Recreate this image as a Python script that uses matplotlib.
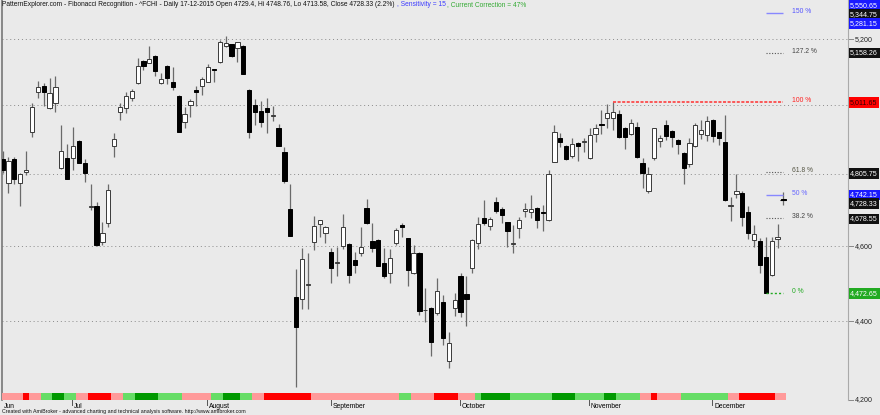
import matplotlib
matplotlib.use("Agg")
import matplotlib.pyplot as plt
import matplotlib.transforms as mtransforms
from matplotlib.patches import Rectangle
import pandas as pd

# ---------------------------------------------------------------------------
# Data (^FCHI daily, 15-06-2015 .. 17-12-2015)
# ---------------------------------------------------------------------------
dates = pd.bdate_range("2015-06-15", "2015-12-17")

opens = [
    4843, 4775, 4843, 4775, 4806, 4923, 5041, 5057, 4992, 5006,
    4817, 4846, 4846, 4896, 4833, 4708, 4711, 4610, 4664, 4881,
    4982, 4992, 5023, 5066, 5134, 5128, 5150, 5066, 5118, 5070,
    5028, 4952, 5002, 5046, 5059, 5071, 5109, 5130, 5180, 5185,
    5174, 5180, 5046, 5002, 4984, 4992, 4969, 4935, 4863, 4702,
    4463, 4457, 4495, 4610, 4661, 4635, 4585, 4554, 4600, 4606,
    4562, 4581, 4706, 4614, 4617, 4554, 4528, 4608, 4657, 4621,
    4527, 4581, 4428, 4434, 4422, 4451, 4296, 4434, 4518, 4471,
    4542, 4608, 4678, 4655, 4721, 4703, 4665, 4607, 4649, 4697,
    4693, 4706, 4693, 4672, 4836, 4905, 4882, 4853, 4889, 4893,
    4846, 4915, 4946, 4962, 4962, 4975, 4935, 4915, 4938, 4833,
    4754, 4848, 4897, 4941, 4925, 4899, 4862, 4829, 4881, 4915,
    4913, 4957, 4921, 4892, 4712, 4744, 4748, 4693, 4617, 4615,
    4571, 4521, 4619, 4729.4,
]
highs = [
    4868, 4850, 4850, 4803, 4867, 5007, 5073, 5066, 5081, 5089,
    4943, 4887, 4938, 4899, 4844, 4772, 4723, 4667, 4773, 4919,
    5007, 5041, 5048, 5142, 5136, 5180, 5152, 5096, 5120, 5115,
    5030, 4995, 5018, 5058, 5086, 5124, 5110, 5198, 5211, 5187,
    5192, 5182, 5048, 5018, 5013, 5021, 4997, 4945, 4877, 4773,
    4537, 4594, 4581, 4683, 4673, 4654, 4594, 4599, 4688, 4608,
    4585, 4652, 4730, 4663, 4619, 4594, 4592, 4649, 4664, 4623,
    4603, 4583, 4486, 4436, 4513, 4469, 4373, 4473, 4527, 4518,
    4619, 4681, 4728, 4681, 4735, 4709, 4667, 4658, 4681, 4718,
    4742, 4708, 4714, 4812, 4943, 4919, 4884, 4904, 4894, 4905,
    4933, 4945, 4988, 5004, 5011.65, 4988, 4937, 4959, 4950, 4846,
    4822, 4935, 4913, 4957, 4928, 4901, 4864, 4905, 4949, 4957,
    4970, 4960, 4923, 4972, 4737, 4800, 4754, 4711, 4658, 4622,
    4624, 4626, 4661, 4748.76,
]
lows = [
    4804, 4748, 4772, 4712, 4798, 4908, 5021, 4999, 4990, 4982,
    4815, 4786, 4812, 4831, 4779, 4700, 4601, 4603, 4653, 4849,
    4957, 4977, 5014, 5064, 5106, 5126, 5089, 5064, 5064, 5046,
    4921, 4933, 4967, 4997, 5031, 5069, 5071, 5128, 5177, 5146,
    5130, 5093, 4904, 4943, 4938, 4920, 4954, 4880, 4775, 4627,
    4232, 4431, 4431, 4590, 4624, 4608, 4500, 4518, 4592, 4501,
    4527, 4574, 4661, 4585, 4546, 4513, 4501, 4603, 4626, 4493,
    4525, 4416, 4399, 4310, 4416, 4338, 4279, 4413, 4410, 4387,
    4528, 4592, 4658, 4644, 4692, 4663, 4597, 4581, 4622, 4681,
    4678, 4649, 4642, 4669, 4834, 4879, 4842, 4846, 4839, 4863,
    4844, 4894, 4916, 4933, 4928, 4905, 4872, 4913, 4846, 4760,
    4748, 4841, 4877, 4899, 4878, 4858, 4773, 4820, 4879, 4902,
    4897, 4894, 4885, 4726, 4670, 4732, 4655, 4619, 4597, 4527,
    4472.65, 4519, 4594, 4713.58,
]
closes = [
    4812, 4838, 4788, 4800, 4813, 4995, 5054, 5041, 5036, 5054,
    4867, 4788, 4881, 4833, 4805, 4710, 4603, 4637, 4756, 4901,
    4995, 5028, 5043, 5118, 5119, 5139, 5103, 5078, 5081, 5054,
    4923, 4974, 5013, 5040, 5078, 5116, 5106, 5193, 5188, 5149,
    5191, 5094, 4921, 4982, 4952, 4980, 4971, 4881, 4781, 4629,
    4384, 4564, 4497, 4656, 4672, 4652, 4540, 4556, 4652, 4522,
    4549, 4597, 4663, 4594, 4547, 4518, 4567, 4644, 4653, 4535,
    4582, 4426, 4430, 4347, 4479, 4357, 4344, 4455, 4425, 4457,
    4617, 4660, 4664, 4674, 4698, 4686, 4642, 4609, 4672, 4702,
    4702, 4672, 4691, 4800, 4921, 4894, 4843, 4887, 4882, 4895,
    4913, 4933, 4943, 4977, 4980, 4906, 4908, 4948, 4850, 4805,
    4800, 4933, 4904, 4911, 4908, 4886, 4817, 4889, 4943, 4928,
    4954, 4910, 4904, 4728, 4714, 4754, 4679, 4635, 4632, 4549,
    4474, 4614, 4624, 4728.33,
]

# trend ribbon under the price pane, run-length coded (state, bars)
ribbon_runs = [
    ("lr", 4), ("r", 1), ("lr", 2), ("lg", 2), ("dg", 2), ("lg", 2),
    ("lr", 2), ("r", 4), ("lr", 2), ("lg", 2), ("dg", 4), ("lg", 4),
    ("lr", 5), ("lg", 2), ("dg", 3), ("lg", 2), ("lr", 2), ("r", 8),
    ("lr", 15), ("lg", 2), ("lr", 4), ("r", 4), ("lr", 3), ("lg", 1),
    ("dg", 5), ("lg", 7), ("dg", 4), ("lg", 5), ("dg", 2), ("lg", 4),
    ("lr", 2), ("r", 1), ("lr", 4), ("lg", 8), ("lr", 2), ("r", 6),
    ("lr", 2),
]

# Fibonacci levels (swing high bar 104, swing low bar 130)
fib_labels = ["0 %", "38.2 %", "50 %", "61.8 %", "100 %", "127.2 %", "150 %"]
fib_prices = [4472.65, 4678.55, 4742.15, 4805.75, 5011.65, 5158.26, 5281.15]
fib_start = [130, 130, 130, 130, 104, 130, 130]

grid_prices = [4200, 4400, 4600, 4800, 5000, 5200]
grid_labels = ["4,200", "4,400", "4,600", "4,800", "5,000", "5,200"]

# ---------------------------------------------------------------------------
# Style
# ---------------------------------------------------------------------------
BG = "#eaeaea"
WICK = "#6a6a6a"
RIBBON = {"lr": "#ff9a9a", "r": "#ff0000", "lg": "#66dd66", "dg": "#009900"}
FIB_LINE = {
    "0 %": ("#22aa22", (0, (1.5, 1.5)), 1.0),
    "38.2 %": ("#555555", (0, (1, 1.5)), 0.8),
    "50 %": ("#8888ff", "-", 1.0),
    "61.8 %": ("#555555", (0, (1, 1.5)), 0.8),
    "100 %": ("#ff3030", (0, (2, 1)), 1.1),
    "127.2 %": ("#555555", (0, (1, 1.5)), 0.8),
    "150 %": ("#8888ff", "-", 1.0),
}
FIB_TEXT = {
    "0 %": "#22aa22", "38.2 %": "#444444", "50 %": "#6666ff",
    "61.8 %": "#555544", "100 %": "#ff2020", "127.2 %": "#444444",
    "150 %": "#5555ff",
}
FS = 4.9
plt.rcParams["font.family"] = ["Liberation Sans", "DejaVu Sans"]

W, H = 880, 415
fig = plt.figure(figsize=(W / 100, H / 100), dpi=100, facecolor=BG)
# price pane: pixel x 2..848, y 0..400
ax = fig.add_axes([2 / W, 15 / H, 846 / W, 400 / H])
ax.set_facecolor(BG)
ax.set_yscale("log")
ax.set_ylim(4199.0, 5322.6)
ax.set_xlim(-0.1, 144.0)
ax.set_xticks([])
ax.set_yticks([])
ax.yaxis.set_minor_locator(matplotlib.ticker.NullLocator())
for side in ("top", "bottom"):
    ax.spines[side].set_visible(False)
ax.spines["left"].set_color("#777777")
ax.spines["right"].set_color("#aaaaaa")
ax.spines["left"].set_linewidth(1.2)

xdata_yaxes = mtransforms.blended_transform_factory(ax.transData, ax.transAxes)
xaxes_ydata = mtransforms.blended_transform_factory(ax.transAxes, ax.transData)

# gridlines + right-axis ticks
for p in grid_prices:
    ax.axhline(p, color="#8a8a8a", lw=0.7, ls=(0, (1, 3)), zorder=1)
    ax.plot([1.0, 1.006], [p, p], transform=xaxes_ydata, color="#888888",
            lw=0.7, clip_on=False)

# candles
n = len(closes)
xs = list(range(n))
up = [c >= o for o, c in zip(opens, closes)]
ax.vlines(xs, lows, highs, color=WICK, lw=0.9, zorder=2)
bottoms = [min(o, c) for o, c in zip(opens, closes)]
heights = [max(abs(c - o), 0.8) for o, c in zip(opens, closes)]
ax.bar(xs, heights, bottom=bottoms, width=0.72,
       color=["white" if u else "black" for u in up],
       edgecolor=["#3a3a3a" if u else "black" for u in up],
       linewidth=0.7, zorder=3)

# trend ribbon
i = 0
for state, count in ribbon_runs:
    ax.add_patch(Rectangle((i - 0.5, 0), count, 6.7 / 400, transform=xdata_yaxes,
                           facecolor=RIBBON[state], edgecolor="none", zorder=4))
    i += count

# Fibonacci levels
for lab, price, x0 in zip(fib_labels, fib_prices, fib_start):
    col, ls, lw = FIB_LINE[lab]
    ax.hlines(price, x0, n - 1, color=col, linestyles=ls, lw=lw, zorder=5)
    ax.annotate(lab, (n + 0.4, price), xytext=(0, 1.5), textcoords="offset pixels",
                fontsize=FS, color=FIB_TEXT[lab], va="center", ha="left",
                annotation_clip=False)

# last close cross marker
ax.hlines(closes[-1], n - 1.5, n - 0.5, color="black", lw=0.8, zorder=6)

# right-axis value tags: (text, pixel y, background, text colour)
tags = [
    ("5,550.65", 5.5, "#1a1aff", "white"),
    ("5,344.75", 14.5, "#111111", "white"),
    ("5,281.15", 23.5, "#1a1aff", "white"),
    ("5,158.26", 53.0, "#111111", "white"),
    ("5,011.65", 102.5, "#ff0000", "#330000"),
    ("4,805.75", 173.5, "#111111", "white"),
    ("4,742.15", 195.0, "#1a1aff", "white"),
    ("4,728.33", 203.5, "#111111", "white"),
    ("4,678.55", 219.0, "#111111", "white"),
    ("4,472.65", 293.5, "#22aa22", "white"),
]
for txt, py, bg, fg in tags:
    ax.text(1.0025, 1 - py / 400, txt, transform=ax.transAxes, fontsize=FS + 0.2,
            color=fg, va="center", ha="left", clip_on=False, zorder=7,
            bbox=dict(facecolor=bg, edgecolor="none", pad=1.1))

for p, lab in zip(grid_prices, grid_labels):
    if lab in ("4,800", "5,000"):
        continue
    ax.text(1.0085, p, lab, transform=xaxes_ydata, fontsize=FS + 0.2,
            color="#222222", va="center", ha="left", clip_on=False)

# month labels and ticks
month_first = [k for k in range(1, n) if dates[k].month != dates[k - 1].month]
ax.text(0.2, -0.016, "Jun", transform=xdata_yaxes, fontsize=FS, va="center",
        ha="left", clip_on=False)
for k in month_first:
    ax.plot([k - 0.1, k - 0.1], [0, -0.013], transform=xdata_yaxes,
            color="#555555", lw=0.7, clip_on=False)
    name = "Jul" if dates[k].month == 7 else dates[k].strftime("%B")
    ax.text(k + 0.2, -0.016, name, transform=xdata_yaxes, fontsize=FS,
            va="center", ha="left", clip_on=False)

# header: three coloured pieces on one line
parts = [
    ("PatternExplorer.com - Fibonacci Recognition - ^FCHI - Daily 17-12-2015 "
     "Open 4729.4, Hi 4748.76, Lo 4713.58, Close 4728.33 (2.2%) ", "#111111"),
    (", Sensitivity = 15", "#3b3bff"),
    (", Current Correction = 47%", "#33aa33"),
]
fig.canvas.draw()
renderer = fig.canvas.get_renderer()
xpix = 2
for txt, col in parts:
    t = fig.text(xpix / W, 1 - 5 / H, txt, fontsize=4.75, color=col,
                 va="center", ha="left")
    xpix = t.get_window_extent(renderer).x1 + 1

fig.text(2 / W, 1 - 411 / H, "Created with AmiBroker - advanced charting and "
         "technical analysis software. http://www.amibroker.com",
         fontsize=3.75, color="#111111", va="center", ha="left")

fig.savefig("out.png", dpi=100, facecolor=BG)
plt.close(fig)
